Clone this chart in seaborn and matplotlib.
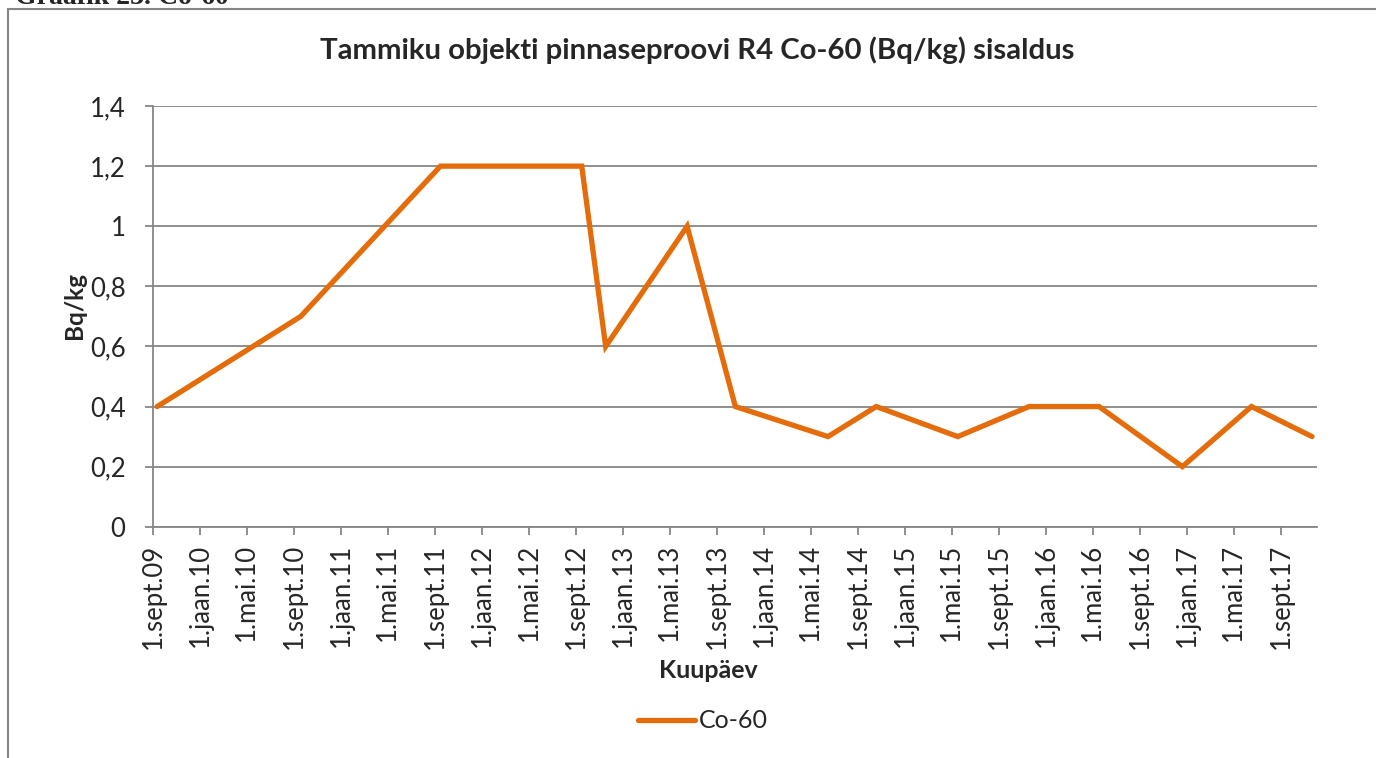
import pandas as pd
import seaborn as sns
import matplotlib.pyplot as plt
from matplotlib.patches import Rectangle

# data
dates = ["2009-09-11", "2010-09-18", "2011-09-15", "2012-09-15", "2012-11-16",
         "2013-06-15", "2013-10-18", "2014-06-15", "2014-10-18", "2015-05-17",
         "2015-11-18", "2016-05-17", "2016-12-19", "2017-06-16", "2017-11-20"]
co60 = [0.4, 0.7, 1.2, 1.2, 0.6, 1.0, 0.4, 0.3, 0.4, 0.3, 0.4, 0.4, 0.2, 0.4, 0.3]
y_ticks = [0, 0.2, 0.4, 0.6, 0.8, 1.0, 1.2, 1.4]
y_labels = ["0", "0,2", "0,4", "0,6", "0,8", "1", "1,2", "1,4"]
month_abbr = {1: "jaan", 5: "mai", 9: "sept"}

df = pd.DataFrame({"Kuupäev": pd.to_datetime(dates), "Co-60": co60})

sns.set_style("white")
plt.rcParams["font.family"] = ["Lato", "DejaVu Sans"]

grey = "#868686"
orange = "#E46C0A"
fs = 18

fig = plt.figure(figsize=(13.76, 7.58), dpi=100)
ax = fig.add_axes([0.1114, 0.3051, 0.8455, 0.555])

sns.lineplot(data=df, x="Kuupäev", y="Co-60", color=orange, linewidth=3.8,
             label="Co-60", ax=ax, solid_joinstyle="miter")

# axes look like excel
tick_dates = pd.date_range("2009-09-01", "2017-09-01", freq="4MS")
tick_labels = [f"{d.day}.{month_abbr[d.month]}.{d.strftime('%y')}" for d in tick_dates]
ax.set_xticks(tick_dates)
ax.set_xticklabels(tick_labels, rotation=90, fontsize=18.5)
ax.set_xlim(pd.Timestamp("2009-09-01"), pd.Timestamp("2017-12-02"))
ax.set_yticks(y_ticks)
ax.set_yticklabels(y_labels, fontsize=18.5)
ax.set_ylim(0, 1.4)

ax.grid(axis="y", color=grey, linewidth=1.3)
ax.grid(axis="x", visible=False)
ax.set_axisbelow(True)
for s in ["top", "right"]:
    ax.spines[s].set_visible(False)
for s in ["left", "bottom"]:
    ax.spines[s].set_color(grey)
    ax.spines[s].set_linewidth(1.3)
ax.tick_params(axis="y", direction="out", length=6, width=1.3, color=grey, pad=14, left=True)
ax.tick_params(axis="x", direction="out", length=6, width=1.3, color=grey, pad=6, bottom=True)
ax.set_xlabel("")
ax.set_ylabel("")

fig.text(697 / 1376, 1 - 50 / 758, "Tammiku objekti pinnaseproovi R4 Co-60 (Bq/kg) sisaldus",
         ha="center", va="center", fontsize=21.2, fontweight="bold")
fig.text(75 / 1376, 1 - 305 / 758, "Bq/kg", rotation=90, ha="center", va="center",
         fontsize=17.5, fontweight="bold")
fig.text(708 / 1376, 1 - 670 / 758, "Kuupäev", ha="center", va="center",
         fontsize=fs, fontweight="bold")

ax.legend(loc="center", bbox_to_anchor=(703 / 1376, 1 - 721 / 758),
          bbox_transform=fig.transFigure, frameon=False, fontsize=fs,
          handlelength=2.3, handletextpad=0.15)

# caption cut off at the top and the chart frame
fig.text(15 / 1376, 1 - 4 / 758, "Graafik 23. Co-60", ha="left", va="baseline",
         fontsize=20, fontweight="bold", family="Liberation Serif")
fig.add_artist(Rectangle((8 / 1376, -0.1), 2, 1.1 - 9 / 758, transform=fig.transFigure,
                         fill=False, edgecolor=grey, linewidth=1.5, clip_on=False))

fig.savefig("out.png", dpi=100)
